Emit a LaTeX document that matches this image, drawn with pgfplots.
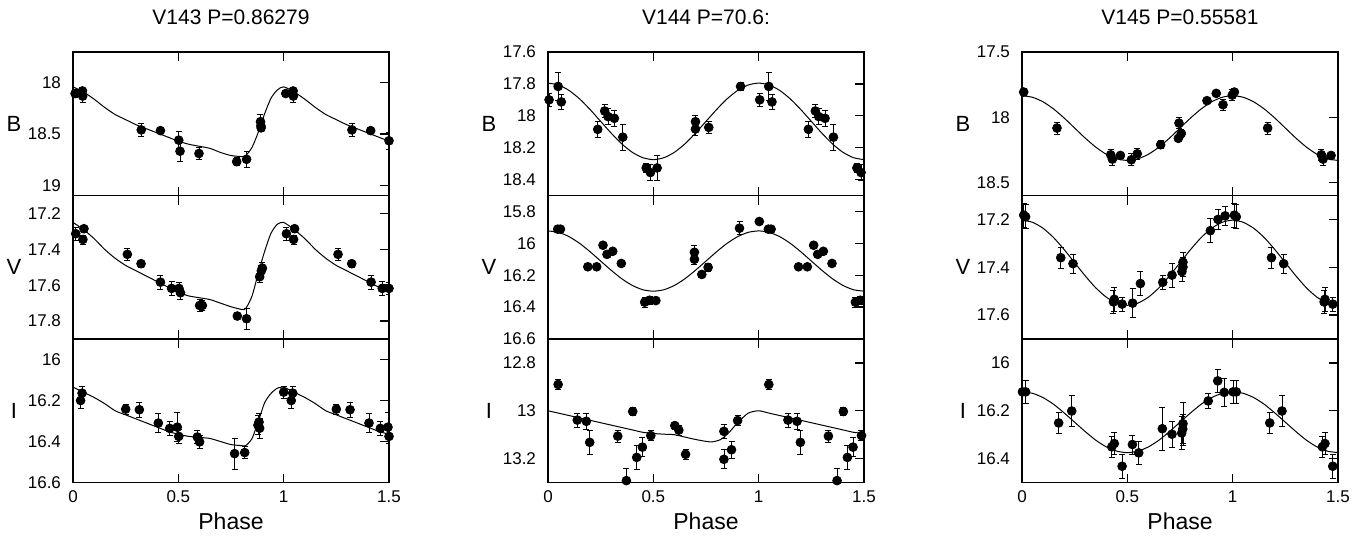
\documentclass[border=0pt]{standalone}
\usepackage{fontspec}
\setmainfont{Liberation Sans}
\usepackage{pgfplots}
\usepackage{pgfplotstable}
\pgfplotsset{compat=1.18}

% observed points: phase, magnitude, error
\pgfplotstableread{
p m e
0.010 18.105 0.04
0.045 18.080 0.03
0.046 18.130 0.06
0.324 18.460 0.06
0.415 18.467 0.02
0.502 18.560 0.085
0.508 18.668 0.10
0.598 18.690 0.06
0.777 18.770 0.04
0.824 18.747 0.08
0.890 18.380 0.07
0.892 18.420 0.04
0.893 18.440 0.03
1.010 18.105 0.03
1.045 18.080 0.03
1.046 18.130 0.06
1.324 18.460 0.06
1.413 18.467 0.02
1.500 18.566 0.085
}\aB
\pgfplotstableread{
p m e
0.013 17.313 0.035
0.047 17.345 0.025
0.052 17.285 0.02
0.258 17.428 0.035
0.323 17.480 0.02
0.415 17.583 0.04
0.468 17.618 0.04
0.503 17.618 0.035
0.510 17.642 0.035
0.601 17.713 0.035
0.614 17.713 0.03
0.780 17.772 0.02
0.824 17.787 0.06
0.886 17.553 0.03
0.894 17.520 0.03
0.899 17.505 0.03
1.013 17.313 0.035
1.047 17.345 0.025
1.052 17.285 0.02
1.258 17.428 0.035
1.323 17.480 0.02
1.415 17.583 0.04
1.468 17.618 0.04
1.500 17.618 0.035
}\aV
\pgfplotstableread{
p m e
0.036 16.200 0.04
0.043 16.164 0.035
0.250 16.242 0.025
0.315 16.245 0.035
0.405 16.310 0.045
0.459 16.336 0.035
0.495 16.330 0.07
0.502 16.375 0.035
0.590 16.378 0.03
0.601 16.402 0.03
0.767 16.459 0.075
0.815 16.454 0.03
0.878 16.320 0.045
0.883 16.305 0.04
0.886 16.335 0.05
1.000 16.159 0.03
1.036 16.200 0.04
1.043 16.164 0.035
1.250 16.242 0.025
1.315 16.245 0.035
1.405 16.310 0.045
1.459 16.336 0.035
1.495 16.330 0.07
1.500 16.375 0.035
}\aI
\pgfplotstableread{
p m e
0.005 17.900 0.04
0.048 17.816 0.09
0.063 17.913 0.05
0.236 18.085 0.05
0.269 17.970 0.04
0.285 18.005 0.05
0.315 18.016 0.05
0.355 18.134 0.08
0.466 18.327 0.03
0.486 18.356 0.05
0.518 18.327 0.08
0.700 18.037 0.04
0.700 18.083 0.04
0.763 18.073 0.04
0.914 17.816 0.025
1.005 17.900 0.04
1.048 17.816 0.09
1.063 17.913 0.05
1.236 18.085 0.05
1.269 17.970 0.04
1.285 18.005 0.05
1.315 18.016 0.05
1.355 18.134 0.08
1.466 18.327 0.03
1.486 18.356 0.05
}\bB
\pgfplotstableread{
p m e
0.046 15.911 0.02
0.059 15.911 0.02
0.189 16.147 0.005
0.231 16.147 0.005
0.261 16.012 0.02
0.280 16.069 0.02
0.307 16.050 0.02
0.348 16.126 0.015
0.459 16.369 0.03
0.482 16.357 0.025
0.512 16.359 0.01
0.695 16.056 0.04
0.695 16.100 0.035
0.730 16.195 0.02
0.760 16.151 0.025
0.909 15.905 0.04
1.003 15.863 0.005
1.046 15.911 0.02
1.059 15.911 0.02
1.189 16.147 0.005
1.231 16.147 0.005
1.261 16.012 0.02
1.280 16.069 0.02
1.307 16.050 0.02
1.348 16.126 0.015
1.459 16.369 0.03
1.482 16.357 0.025
}\bV
\pgfplotstableread{
p m e
0.048 12.890 0.02
0.139 13.039 0.03
0.182 13.044 0.035
0.198 13.132 0.05
0.331 13.106 0.025
0.372 13.292 0.05
0.402 13.003 0.015
0.421 13.195 0.05
0.448 13.152 0.04
0.488 13.104 0.02
0.602 13.062 0.015
0.621 13.081 0.02
0.653 13.182 0.02
0.835 13.086 0.03
0.835 13.203 0.04
0.871 13.163 0.035
0.900 13.041 0.02
1.048 12.890 0.02
1.139 13.039 0.03
1.182 13.044 0.035
1.198 13.132 0.05
1.331 13.106 0.025
1.372 13.292 0.05
1.402 13.003 0.015
1.421 13.195 0.05
1.448 13.152 0.04
1.488 13.104 0.02
}\bI
\pgfplotstableread{
p m e
0.008 17.807 0.025
0.166 18.083 0.045
0.421 18.288 0.04
0.429 18.321 0.045
0.467 18.293 0.025
0.519 18.326 0.045
0.547 18.280 0.04
0.658 18.211 0.03
0.742 18.162 0.02
0.745 18.045 0.04
0.756 18.124 0.03
0.878 17.873 0.02
0.922 17.817 0.02
0.954 17.904 0.04
0.998 17.830 0.04
1.008 17.807 0.025
1.166 18.083 0.045
1.421 18.288 0.04
1.429 18.321 0.045
1.467 18.293 0.025
}\cB
\pgfplotstableread{
p m e
0.008 17.182 0.05
0.017 17.189 0.05
0.184 17.360 0.045
0.242 17.385 0.04
0.434 17.545 0.05
0.438 17.534 0.05
0.475 17.554 0.03
0.525 17.550 0.06
0.562 17.468 0.05
0.668 17.463 0.03
0.712 17.433 0.05
0.759 17.418 0.04
0.764 17.399 0.04
0.764 17.379 0.04
0.894 17.247 0.05
0.930 17.200 0.04
0.964 17.185 0.04
1.008 17.182 0.05
1.017 17.189 0.05
1.184 17.360 0.045
1.242 17.385 0.04
1.434 17.545 0.05
1.438 17.534 0.05
1.475 17.554 0.03
}\cV
\pgfplotstableread{
p m e
0.002 16.121 0.05
0.017 16.121 0.05
0.174 16.251 0.045
0.236 16.201 0.065
0.426 16.351 0.045
0.438 16.337 0.045
0.475 16.432 0.05
0.524 16.341 0.04
0.554 16.376 0.05
0.666 16.275 0.09
0.712 16.298 0.055
0.758 16.293 0.07
0.763 16.276 0.06
0.764 16.254 0.09
0.884 16.159 0.03
0.929 16.075 0.05
0.960 16.123 0.06
1.002 16.121 0.05
1.017 16.121 0.05
1.176 16.251 0.045
1.234 16.201 0.065
1.426 16.351 0.045
1.438 16.337 0.045
1.475 16.432 0.05
}\cI

\pgfplotsset{
  pnl/.style={
    width=158pt, height=71.75pt, scale only axis, anchor=north west,
    xmin=0, xmax=1.5, y dir=reverse,
    xtick={0,0.5,1,1.5}, xticklabels={},
    tick align=inside, xtick pos=both, ytick pos=right, yticklabel pos=left,
    major tick length=4.5pt, minor tick num=0,
    axis line style={line width=0.9pt},
    every tick/.style={black, line width=0.7pt},
    /pgf/number format/assume math mode=true,
    tick label style={font=\fontsize{8.5}{10}\selectfont},
    yticklabel style={xshift=-2.5pt},
    xticklabel style={yshift=-0.5pt},
    ylabel style={rotate=-90, at={(axis description cs:0,0.5)}, anchor=center,
      xshift=-29.5pt, font=\fontsize{11}{12}\selectfont},
    title style={at={(axis description cs:0.5,1)}, anchor=center, yshift=11.5pt,
      font=\fontsize{10.5}{12}\selectfont},
    xlabel style={at={(axis description cs:0.5,0)}, anchor=center, yshift=-19.5pt,
      font=\fontsize{11.5}{13}\selectfont},
  },
  bot/.style={xticklabels={0,0.5,1,1.5}, xlabel={Phase}},
  obs/.style={only marks, mark=*, mark size=2.2pt, black,
    error bars/.cd, y dir=both, y explicit,
    error bar style={line width=0.4pt},
    error mark options={rotate=90, mark size=1.5pt, line width=0.4pt}},
  fit/.style={no marks, black, line width=0.5pt, smooth, tension=0.4},
}

\begin{document}
\begin{tikzpicture}
\useasboundingbox (0,0) rectangle (684pt,-271pt);

% ---------- V143 ----------
\begin{axis}[pnl, at={(36.5pt,-26pt)}, ymin=17.7, ymax=19.1, ytick={18,18.5,19},
  ylabel={B}, title={V143 P=0.86279}]
\addplot[fit] coordinates {(0,18.04) (0.05,18.09) (0.1,18.16) (0.15,18.24) (0.2,18.31)
  (0.25,18.36) (0.3,18.41) (0.35,18.45) (0.4,18.49) (0.45,18.53) (0.5,18.57) (0.55,18.6)
  (0.6,18.62) (0.65,18.64) (0.7,18.68) (0.75,18.71) (0.8,18.72) (0.82,18.71) (0.85,18.63)
  (0.88,18.48) (0.91,18.3) (0.94,18.15) (0.97,18.07) (1,18.04) (1.05,18.09) (1.1,18.16)
  (1.15,18.24) (1.2,18.31) (1.25,18.36) (1.3,18.41) (1.35,18.45) (1.4,18.49) (1.45,18.53)
  (1.5,18.57)};
\addplot[obs] table[x=p, y=m, y error=e] {\aB};
\end{axis}
\begin{axis}[pnl, at={(36.5pt,-97.75pt)}, ymin=17.1, ymax=17.9, ytick={17.2,17.4,17.6,17.8},
  ylabel={V}]
\addplot[fit] coordinates {(0,17.25) (0.05,17.29) (0.1,17.34) (0.15,17.4) (0.2,17.45)
  (0.25,17.49) (0.3,17.52) (0.35,17.55) (0.4,17.58) (0.45,17.61) (0.5,17.64) (0.55,17.66)
  (0.6,17.67) (0.65,17.68) (0.7,17.7) (0.75,17.72) (0.8,17.735) (0.82,17.73) (0.85,17.66)
  (0.88,17.53) (0.91,17.41) (0.94,17.31) (0.97,17.26) (1,17.25) (1.05,17.29) (1.1,17.34)
  (1.15,17.4) (1.2,17.45) (1.25,17.49) (1.3,17.52) (1.35,17.55) (1.4,17.58) (1.45,17.61)
  (1.5,17.64)};
\addplot[obs] table[x=p, y=m, y error=e] {\aV};
\end{axis}
\begin{axis}[pnl, bot, at={(36.5pt,-169.5pt)}, ymin=15.9, ymax=16.6, ytick={16,16.2,16.4,16.6},
  ylabel={I}]
\addplot[fit] coordinates {(0,16.135) (0.05,16.16) (0.1,16.185) (0.15,16.215) (0.2,16.25)
  (0.25,16.27) (0.3,16.29) (0.35,16.31) (0.4,16.33) (0.45,16.35) (0.5,16.365) (0.55,16.375)
  (0.6,16.38) (0.65,16.385) (0.7,16.4) (0.75,16.415) (0.8,16.42) (0.82,16.42) (0.85,16.385)
  (0.88,16.3) (0.91,16.21) (0.94,16.165) (0.97,16.14) (1,16.135) (1.05,16.16) (1.1,16.185)
  (1.15,16.215) (1.2,16.25) (1.25,16.27) (1.3,16.29) (1.35,16.31) (1.4,16.33) (1.45,16.35)
  (1.5,16.365)};
\addplot[obs] table[x=p, y=m, y error=e] {\aI};
\end{axis}

% ---------- V144 ----------
\begin{axis}[pnl, at={(274pt,-26pt)}, ymin=17.6, ymax=18.5, ytick={17.6,17.8,18,18.2,18.4},
  ylabel={B}, title={V144 P=70.6:}]
\addplot[fit] coordinates {(0,17.795) (0.05,17.807) (0.1,17.841) (0.15,17.894) (0.2,17.961)
  (0.25,18.035) (0.3,18.109) (0.35,18.176) (0.4,18.229) (0.45,18.263) (0.5,18.275)
  (0.55,18.263) (0.6,18.229) (0.65,18.176) (0.7,18.109) (0.75,18.035) (0.8,17.961)
  (0.85,17.894) (0.9,17.841) (0.95,17.807) (1,17.795) (1.05,17.807) (1.1,17.841)
  (1.15,17.894) (1.2,17.961) (1.25,18.035) (1.3,18.109) (1.35,18.176) (1.4,18.229)
  (1.45,18.263) (1.5,18.275)};
\addplot[obs] table[x=p, y=m, y error=e] {\bB};
\end{axis}
\begin{axis}[pnl, at={(274pt,-97.75pt)}, ymin=15.7, ymax=16.6, ytick={15.8,16,16.2,16.4,16.6},
  ylabel={V}]
\addplot[fit] coordinates {(0,15.922) (0.05,15.931) (0.1,15.958) (0.15,16.0) (0.2,16.053)
  (0.25,16.111) (0.3,16.169) (0.35,16.222) (0.4,16.264) (0.45,16.291) (0.5,16.3)
  (0.55,16.291) (0.6,16.264) (0.65,16.222) (0.7,16.169) (0.75,16.111) (0.8,16.053)
  (0.85,16.0) (0.9,15.958) (0.95,15.931) (1,15.922) (1.05,15.931) (1.1,15.958) (1.15,16.0)
  (1.2,16.053) (1.25,16.111) (1.3,16.169) (1.35,16.222) (1.4,16.264) (1.45,16.291) (1.5,16.3)};
\addplot[obs] table[x=p, y=m, y error=e] {\bV};
\end{axis}
\begin{axis}[pnl, bot, at={(274pt,-169.5pt)}, ymin=12.7, ymax=13.3, ytick={12.8,13,13.2},
  ylabel={I}]
\addplot[fit] coordinates {(0,13.0) (0.05,13.01) (0.1,13.02) (0.15,13.03) (0.2,13.04)
  (0.25,13.05) (0.3,13.06) (0.35,13.07) (0.4,13.08) (0.45,13.09) (0.5,13.095) (0.55,13.098)
  (0.6,13.1) (0.65,13.11) (0.7,13.12) (0.75,13.128) (0.78,13.13) (0.82,13.12) (0.86,13.09)
  (0.9,13.05) (0.95,13.01) (1,13.0) (1.05,13.01) (1.1,13.02) (1.15,13.03) (1.2,13.04)
  (1.25,13.05) (1.3,13.06) (1.35,13.07) (1.4,13.08) (1.45,13.09) (1.5,13.095)};
\addplot[obs] table[x=p, y=m, y error=e] {\bI};
\end{axis}

% ---------- V145 ----------
\begin{axis}[pnl, at={(511pt,-26pt)}, ymin=17.5, ymax=18.6, ytick={17.5,18,18.5},
  ylabel={B}, title={V145 P=0.55581}]
\addplot[fit] coordinates {(0,17.835) (0.05,17.847) (0.1,17.882) (0.15,17.937) (0.2,18.006)
  (0.25,18.083) (0.3,18.16) (0.35,18.229) (0.4,18.284) (0.45,18.319) (0.5,18.331)
  (0.55,18.319) (0.6,18.284) (0.65,18.229) (0.7,18.16) (0.75,18.083) (0.8,18.006)
  (0.85,17.937) (0.9,17.882) (0.95,17.847) (1,17.835) (1.05,17.847) (1.1,17.882)
  (1.15,17.937) (1.2,18.006) (1.25,18.083) (1.3,18.16) (1.35,18.229) (1.4,18.284)
  (1.45,18.319) (1.5,18.331)};
\addplot[obs] table[x=p, y=m, y error=e] {\cB};
\end{axis}
\begin{axis}[pnl, at={(511pt,-97.75pt)}, ymin=17.1, ymax=17.7, ytick={17.2,17.4,17.6},
  ylabel={V}]
\addplot[fit] coordinates {(0,17.203) (0.05,17.212) (0.1,17.237) (0.15,17.276) (0.2,17.326)
  (0.25,17.381) (0.3,17.436) (0.35,17.486) (0.4,17.525) (0.45,17.55) (0.5,17.559)
  (0.55,17.55) (0.6,17.525) (0.65,17.486) (0.7,17.436) (0.75,17.381) (0.8,17.326)
  (0.85,17.276) (0.9,17.237) (0.95,17.212) (1,17.203) (1.05,17.212) (1.1,17.237)
  (1.15,17.276) (1.2,17.326) (1.25,17.381) (1.3,17.436) (1.35,17.486) (1.4,17.525)
  (1.45,17.55) (1.5,17.559)};
\addplot[obs] table[x=p, y=m, y error=e] {\cV};
\end{axis}
\begin{axis}[pnl, bot, at={(511pt,-169.5pt)}, ymin=15.9, ymax=16.5, ytick={16,16.2,16.4},
  ylabel={I}]
\addplot[fit] coordinates {(0,16.121) (0.05,16.127) (0.1,16.145) (0.15,16.173) (0.2,16.209)
  (0.25,16.248) (0.3,16.287) (0.35,16.323) (0.4,16.351) (0.45,16.369) (0.5,16.375)
  (0.55,16.369) (0.6,16.351) (0.65,16.323) (0.7,16.287) (0.75,16.248) (0.8,16.209)
  (0.85,16.173) (0.9,16.145) (0.95,16.127) (1,16.121) (1.05,16.127) (1.1,16.145)
  (1.15,16.173) (1.2,16.209) (1.25,16.248) (1.3,16.287) (1.35,16.323) (1.4,16.351)
  (1.45,16.369) (1.5,16.375)};
\addplot[obs] table[x=p, y=m, y error=e] {\cI};
\end{axis}
\end{tikzpicture}
\end{document}
